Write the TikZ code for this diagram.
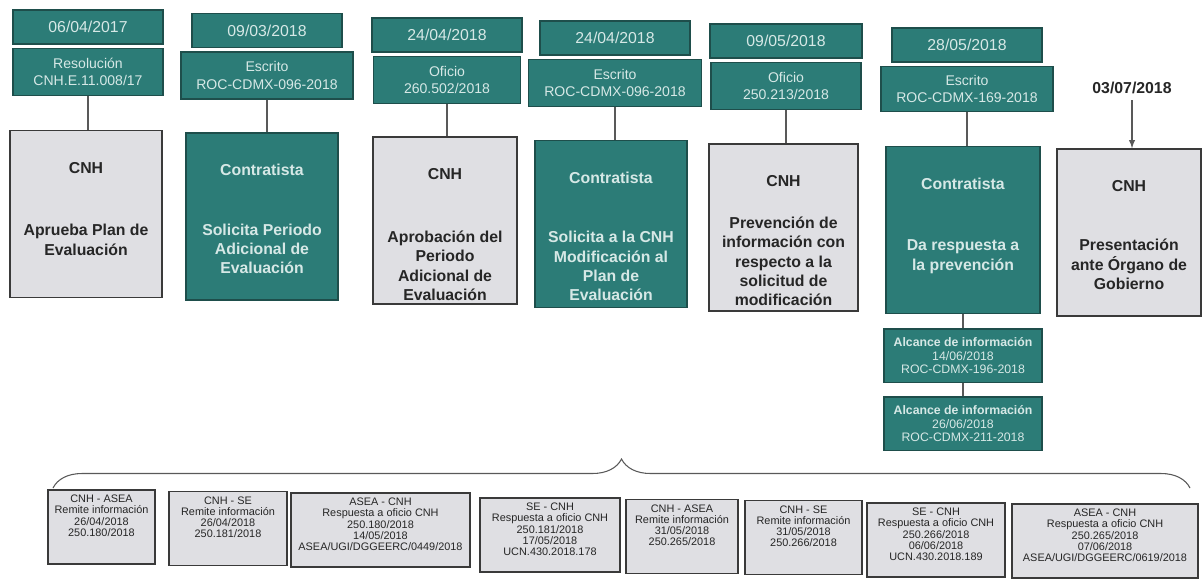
\documentclass[tikz,border=0pt]{standalone}
\usepackage{fontspec}
\setmainfont{Liberation Sans}
\usepackage{xcolor}
\usetikzlibrary{positioning, arrows, decorations.pathreplacing}

\definecolor{tealbox}{RGB}{44,124,119}
\definecolor{tealedge}{RGB}{30,78,75}
\definecolor{tealfont}{RGB}{214,232,230}
\definecolor{greybox}{RGB}{223,223,227}
\definecolor{greyedge}{RGB}{58,58,58}

\newcommand{\steptext}[3]{\parbox[c][3.34cm][t]{2.8cm}{\centering\vspace*{0.63cm}\textbf{#1}\par\vspace{#3}\textbf{#2}}}
\newcommand{\notetext}[2]{\parbox[c][1.48cm][t]{#1}{\centering\vspace*{3pt}#2}}

\begin{document}
\begin{tikzpicture}[x=0.02cm, y=-0.02cm,
    datebox/.style={draw=tealedge, line width=0.8pt, fill=tealbox, text=tealfont, minimum width=3cm, minimum height=0.68cm, inner sep=0pt, font=\fontsize{9}{10}\selectfont},
    docbox/.style={datebox, minimum height=0.94cm, align=center, font=\fontsize{8}{10}\selectfont},
    cnhstep/.style={draw=greyedge, line width=0.9pt, fill=greybox, text=black!85, minimum width=3.04cm, inner sep=0pt, font=\fontsize{9}{11}\selectfont},
    contstep/.style={cnhstep, draw=tealedge, fill=tealbox, text=tealfont},
    alcance/.style={datebox, minimum width=3.16cm, minimum height=1.07cm, align=center, font=\fontsize{7}{7.8}\selectfont},
    note/.style={draw=greyedge, line width=0.7pt, fill=greybox, text=black!85, inner sep=0pt, font=\fontsize{6.2}{6.3}\selectfont},
    link/.style={draw=black!65, line width=0.6pt}]
        \useasboundingbox (0,0) rectangle (1202,578);
        \fill[white] (0,0) rectangle (1202,578);

        \node[datebox] (d1) at (88,27) {06/04/2017};
        \node[docbox, below=0.06cm of d1] (r1) {Resolución\\CNH.E.11.008/17};
        \node[cnhstep] (m1) at (86,214) {\steptext{CNH}{Aprueba Plan de\\Evaluación}{0.87cm}};

        \node[datebox] (d2) at (267,30.5) {09/03/2018};
        \node[docbox, minimum width=3.44cm, below=0.06cm of d2] (r2) {Escrito\\ROC-CDMX-096-2018};
        \node[contstep] (m2) at (262,216.5) {\steptext{Contratista}{Solicita Periodo\\Adicional de\\Evaluación}{0.8cm}};

        \node[datebox] (d3) at (447,35) {24/04/2018};
        \node[docbox, minimum width=2.94cm, below=0.06cm of d3] (r3) {Oficio\\260.502/2018};
        \node[cnhstep, minimum width=2.88cm] (m3) at (445,220.5) {\steptext{CNH}{Aprobación del\\Periodo\\Adicional de\\Evaluación}{0.87cm}};

        \node[datebox] (d4) at (615,38) {24/04/2018};
        \node[docbox, minimum width=3.46cm, below=0.06cm of d4] (r4) {Escrito\\ROC-CDMX-096-2018};
        \node[contstep] (m4) at (611,224) {\steptext{Contratista}{Solicita a la CNH\\Modificación al\\Plan de\\Evaluación}{0.8cm}};

        \node[datebox, minimum width=3.04cm] (d5) at (786,41) {09/05/2018};
        \node[docbox, below=0.06cm of d5] (r5) {Oficio\\250.213/2018};
        \node[cnhstep, minimum width=2.98cm] (m5) at (783.5,227.5) {\steptext{CNH}{Prevención de\\información con\\respecto a la\\solicitud de\\modificación}{0.45cm}};

        \node[datebox] (d6) at (967,45) {28/05/2018};
        \node[docbox, minimum width=3.44cm, minimum height=0.9cm, below=0.06cm of d6] (r6) {Escrito\\ROC-CDMX-169-2018};
        \node[contstep, minimum width=3.08cm] (m6) at (963,230) {\steptext{Contratista}{Da respuesta a\\la prevención}{0.84cm}};

        \node[font=\bfseries\fontsize{9}{10}\selectfont, text=black!85] (l7) at (1132,88) {03/07/2018};
        \node[cnhstep, minimum width=2.88cm] (m7) at (1129,232.5) {\steptext{CNH}{Presentación\\ante Órgano de\\Gobierno}{0.8cm}};

        \node[alcance, below=0.28cm of m6] (a1) {\textbf{Alcance de información}\\14/06/2018\\ROC-CDMX-196-2018};
        \node[alcance, below=0.26cm of a1] (a2) {\textbf{Alcance de información}\\26/06/2018\\ROC-CDMX-211-2018};

        \draw[link] (r1) -- (r1 |- m1.north);
        \draw[link] (r2) -- (r2 |- m2.north);
        \draw[link] (r3) -- (r3 |- m3.north);
        \draw[link] (r4) -- (r4 |- m4.north);
        \draw[link] (r5) -- (r5 |- m5.north);
        \draw[link] (r6) -- (r6 |- m6.north);
        \draw[link, -latex] (l7) -- (l7 |- m7.north);
        \draw[link] (m6) -- (m6 |- a1.north);
        \draw[link] (a1) -- (a1 |- a2.north);

        \coordinate (bl) at (53,488);
        \coordinate (br) at (1190,488);
        \draw[link, decorate, decoration={brace, amplitude=0.58cm}] (bl) -- (br);

        \node[note] (b1) at (101.5,527) {\notetext{2.14cm}{CNH - ASEA\\Remite información\\26/04/2018\\250.180/2018}};
        \node[note] (b2) at (228,528.5) {\notetext{2.36cm}{CNH - SE\\Remite información\\26/04/2018\\250.181/2018}};
        \node[note] (b3) at (380.5,530) {\notetext{3.58cm}{ASEA - CNH\\Respuesta a oficio CNH\\250.180/2018\\14/05/2018\\ASEA/UGI/DGGEERC/0449/2018}};
        \node[note] (b4) at (550,535) {\notetext{2.8cm}{SE - CNH\\Respuesta a oficio CNH\\250.181/2018\\17/05/2018\\UCN.430.2018.178}};
        \node[note] (b5) at (682,536.5) {\notetext{2.24cm}{CNH - ASEA\\Remite información\\31/05/2018\\250.265/2018}};
        \node[note] (b6) at (803.5,537.5) {\notetext{2.34cm}{CNH - SE\\Remite información\\31/05/2018\\250.266/2018}};
        \node[note] (b7) at (936,540) {\notetext{2.76cm}{SE - CNH\\Respuesta a oficio CNH\\250.266/2018\\06/06/2018\\UCN.430.2018.189}};
        \node[note] (b8) at (1105,541) {\notetext{3.72cm}{ASEA - CNH\\Respuesta a oficio CNH\\250.265/2018\\07/06/2018\\ASEA/UGI/DGGEERC/0619/2018}};
\end{tikzpicture}
\end{document}
